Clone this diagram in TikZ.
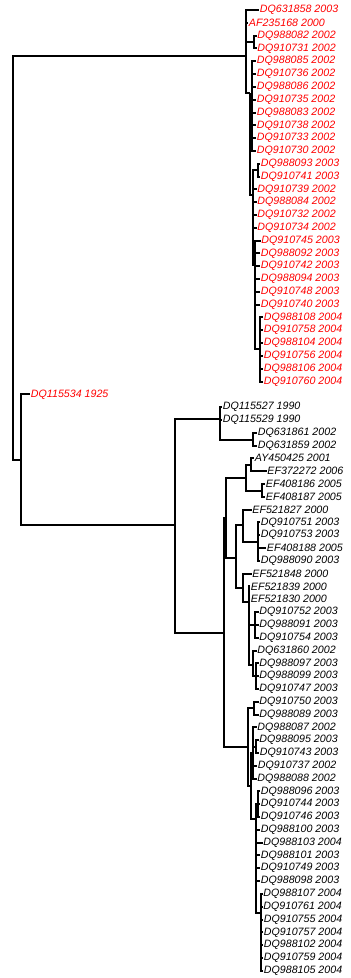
\documentclass[tikz,border=0pt]{standalone}
\usepackage{fontspec}
\setmainfont{Liberation Sans}
\tikzset{
  taxon/.style={anchor=west, inner sep=0.5pt, font=\itshape\fontsize{8}{9}\selectfont},
  old/.style={taxon, text=red},
  branch/.style={line width=1.5pt}
}
\begin{document}
\begin{tikzpicture}[x=0.75pt, y=-0.75pt]
      \useasboundingbox (0,0) rectangle (350,978);
      % internal nodes
      \path
        (13,258) coordinate (root)
        (246,56) coordinate (r0)
        (254,42) coordinate (r1)
        (250,93) coordinate (r2)
        (252,106) coordinate (r3)
        (253,195) coordinate (r4)
        (258,170) coordinate (r5)
        (255,265) coordinate (r6)
        (260,349) coordinate (r7)
        (21,460) coordinate (n1)
        (175,525) coordinate (n2)
        (220,419) coordinate (n3)
        (224,633) coordinate (n4)
        (253,440) coordinate (n5)
        (226,518) coordinate (n6)
        (248,747) coordinate (n7)
        (246,478) coordinate (n8)
        (236,558) coordinate (n9)
        (251,465) coordinate (n10)
        (262,491) coordinate (n11)
        (243,525) coordinate (n12)
        (243,588) coordinate (n13)
        (258,542) coordinate (n14)
        (249,602) coordinate (n15)
        (255,625) coordinate (n16)
        (253,665) coordinate (n17)
        (256,676) coordinate (n18)
        (254,708) coordinate (n19)
        (251,786) coordinate (n20)
        (253,753) coordinate (n21)
        (256,819) coordinate (n22)
        (256,746.5) coordinate (n23)
        (258,804) coordinate (n24)
        (261,913) coordinate (n25);
      % taxa
      \path
        (259,10.0) node[old] (DQ631858){DQ631858 2003}
        (248,22.8) node[old] (AF235168){AF235168 2000}
        (256.5,35.6) node[old] (DQ988082){DQ988082 2002}
        (256.5,48.4) node[old] (DQ910731){DQ910731 2002}
        (256,61.2) node[old] (DQ988085){DQ988085 2002}
        (256,74.0) node[old] (DQ910736){DQ910736 2002}
        (256,86.9) node[old] (DQ988086){DQ988086 2002}
        (256,99.7) node[old] (DQ910735){DQ910735 2002}
        (256,112.5) node[old] (DQ988083){DQ988083 2002}
        (256,125.3) node[old] (DQ910738){DQ910738 2002}
        (256,138.1) node[old] (DQ910733){DQ910733 2002}
        (256,150.9) node[old] (DQ910730){DQ910730 2002}
        (260,163.7) node[old] (DQ988093){DQ988093 2003}
        (260,176.5) node[old] (DQ910741){DQ910741 2003}
        (256.5,189.3) node[old] (DQ910739){DQ910739 2002}
        (256.5,202.1) node[old] (DQ988084){DQ988084 2002}
        (256.5,214.9) node[old] (DQ910732){DQ910732 2002}
        (256.5,227.8) node[old] (DQ910734){DQ910734 2002}
        (260.5,240.6) node[old] (DQ910745){DQ910745 2003}
        (260,253.4) node[old] (DQ988092){DQ988092 2003}
        (260,266.2) node[old] (DQ910742){DQ910742 2003}
        (260,279.0) node[old] (DQ988094){DQ988094 2003}
        (260,291.8) node[old] (DQ910748){DQ910748 2003}
        (260,304.6) node[old] (DQ910740){DQ910740 2003}
        (263,317.4) node[old] (DQ988108){DQ988108 2004}
        (263,330.2) node[old] (DQ910758){DQ910758 2004}
        (263,343.0) node[old] (DQ988104){DQ988104 2004}
        (263,355.8) node[old] (DQ910756){DQ910756 2004}
        (263,368.7) node[old] (DQ988106){DQ988106 2004}
        (263,381.5) node[old] (DQ910760){DQ910760 2004}
        (30,394.3) node[old] (DQ115534){DQ115534 1925}
        (222,407.1) node[taxon] (DQ115527){DQ115527 1990}
        (222,419.9) node[taxon] (DQ115529){DQ115529 1990}
        (257,432.7) node[taxon] (DQ631861){DQ631861 2002}
        (257,445.5) node[taxon] (DQ631859){DQ631859 2002}
        (254,458.3) node[taxon] (AY450425){AY450425 2001}
        (266.5,471.1) node[taxon] (EF372272){EF372272 2006}
        (265,483.9) node[taxon] (EF408186){EF408186 2005}
        (265,496.7) node[taxon] (EF408187){EF408187 2005}
        (251.5,509.6) node[taxon] (EF521827){EF521827 2000}
        (260,522.4) node[taxon] (DQ910751){DQ910751 2003}
        (260,535.2) node[taxon] (DQ910753){DQ910753 2003}
        (266,548.0) node[taxon] (EF408188){EF408188 2005}
        (260,560.8) node[taxon] (DQ988090){DQ988090 2003}
        (251.5,573.6) node[taxon] (EF521848){EF521848 2000}
        (250,586.4) node[taxon] (EF521839){EF521839 2000}
        (250,599.2) node[taxon] (EF521830){EF521830 2000}
        (258.5,612.0) node[taxon] (DQ910752){DQ910752 2003}
        (258.5,624.8) node[taxon] (DQ988091){DQ988091 2003}
        (258.5,637.7) node[taxon] (DQ910754){DQ910754 2003}
        (256.5,650.5) node[taxon] (DQ631860){DQ631860 2002}
        (258.5,663.3) node[taxon] (DQ988097){DQ988097 2003}
        (258.5,676.1) node[taxon] (DQ988099){DQ988099 2003}
        (258.5,688.9) node[taxon] (DQ910747){DQ910747 2003}
        (258.5,701.7) node[taxon] (DQ910750){DQ910750 2003}
        (258.5,714.5) node[taxon] (DQ988089){DQ988089 2003}
        (256.5,727.3) node[taxon] (DQ988087){DQ988087 2002}
        (258.5,740.1) node[taxon] (DQ988095){DQ988095 2003}
        (259,752.9) node[taxon] (DQ910743){DQ910743 2003}
        (257,765.8) node[taxon] (DQ910737){DQ910737 2002}
        (256.5,778.6) node[taxon] (DQ988088){DQ988088 2002}
        (260,791.4) node[taxon] (DQ988096){DQ988096 2003}
        (260,804.2) node[taxon] (DQ910744){DQ910744 2003}
        (260,817.0) node[taxon] (DQ910746){DQ910746 2003}
        (260,829.8) node[taxon] (DQ988100){DQ988100 2003}
        (262.5,842.6) node[taxon] (DQ988103){DQ988103 2004}
        (260,855.4) node[taxon] (DQ988101){DQ988101 2003}
        (260,868.2) node[taxon] (DQ910749){DQ910749 2003}
        (260,881.0) node[taxon] (DQ988098){DQ988098 2003}
        (262.5,893.9) node[taxon] (DQ988107){DQ988107 2004}
        (262.5,906.7) node[taxon] (DQ910761){DQ910761 2004}
        (263,919.5) node[taxon] (DQ910755){DQ910755 2004}
        (263,932.3) node[taxon] (DQ910757){DQ910757 2004}
        (263,945.1) node[taxon] (DQ988102){DQ988102 2004}
        (263,957.9) node[taxon] (DQ910759){DQ910759 2004}
        (263,970.7) node[taxon] (DQ988105){DQ988105 2004};
      \begin{scope}[branch]
        \draw (root) |- (r0);
        \draw (root) |- (n1);
        % red clade
        \draw (r0) |- (DQ631858);
        \draw (r0) |- (AF235168);
        \draw (r0) |- (r1);
        \draw (r0) |- (r2);
        \draw (r1) |- (DQ988082);
        \draw (r1) |- (DQ910731);
        \draw (r2) |- (r3);
        \draw (r2) |- (r4);
        \draw (r3) |- (DQ988085);
        \draw (r3) |- (DQ910736);
        \draw (r3) |- (DQ988086);
        \draw (r3) |- (DQ910735);
        \draw (r3) |- (DQ988083);
        \draw (r3) |- (DQ910738);
        \draw (r3) |- (DQ910733);
        \draw (r3) |- (DQ910730);
        \draw (r4) |- (r5);
        \draw (r4) |- (DQ910739);
        \draw (r4) |- (DQ988084);
        \draw (r4) |- (DQ910732);
        \draw (r4) |- (DQ910734);
        \draw (r4) |- (r6);
        \draw (r5) |- (DQ988093);
        \draw (r5) |- (DQ910741);
        \draw (r6) |- (DQ910745);
        \draw (r6) |- (DQ988092);
        \draw (r6) |- (DQ910742);
        \draw (r6) |- (DQ988094);
        \draw (r6) |- (DQ910748);
        \draw (r6) |- (DQ910740);
        \draw (r6) |- (r7);
        \draw (r7) |- (DQ988108);
        \draw (r7) |- (DQ910758);
        \draw (r7) |- (DQ988104);
        \draw (r7) |- (DQ910756);
        \draw (r7) |- (DQ988106);
        \draw (r7) |- (DQ910760);
        % black clade
        \draw (n1) |- (DQ115534);
        \draw (n1) |- (n2);
        \draw (n2) |- (n3);
        \draw (n2) |- (n4);
        \draw (n3) |- (DQ115527);
        \draw (n3) |- (DQ115529);
        \draw (n3) |- (n5);
        \draw (n5) |- (DQ631861);
        \draw (n5) |- (DQ631859);
        \draw (n4) |- (n6);
        \draw (n4) |- (n7);
        \draw (n6) |- (n8);
        \draw (n6) |- (n9);
        \draw (n8) |- (n10);
        \draw (n8) |- (n11);
        \draw (n10) |- (AY450425);
        \draw (n10) |- (EF372272);
        \draw (n11) |- (EF408186);
        \draw (n11) |- (EF408187);
        \draw (n9) |- (n12);
        \draw (n9) |- (n13);
        \draw (n12) |- (EF521827);
        \draw (n12) |- (n14);
        \draw (n14) |- (DQ910751);
        \draw (n14) |- (DQ910753);
        \draw (n14) |- (EF408188);
        \draw (n14) |- (DQ988090);
        \draw (n13) |- (EF521848);
        \draw (n13) |- (n15);
        \draw (n15) |- (EF521839);
        \draw (n15) |- (EF521830);
        \draw (n15) |- (n16);
        \draw (n15) |- (n17);
        \draw (n16) |- (DQ910752);
        \draw (n16) |- (DQ988091);
        \draw (n16) |- (DQ910754);
        \draw (n17) |- (DQ631860);
        \draw (n17) |- (n18);
        \draw (n18) |- (DQ988097);
        \draw (n18) |- (DQ988099);
        \draw (n18) |- (DQ910747);
        \draw (n7) |- (n19);
        \draw (n7) |- (n20);
        \draw (n19) |- (DQ910750);
        \draw (n19) |- (DQ988089);
        \draw (n20) |- (n21);
        \draw (n20) |- (n22);
        \draw (n21) |- (DQ988087);
        \draw (n21) |- (n23);
        \draw (n21) |- (DQ910737);
        \draw (n21) |- (DQ988088);
        \draw (n23) |- (DQ988095);
        \draw (n23) |- (DQ910743);
        \draw (n22) |- (n24);
        \draw (n22) |- (DQ988100);
        \draw (n22) |- (DQ988103);
        \draw (n22) |- (DQ988101);
        \draw (n22) |- (DQ910749);
        \draw (n22) |- (DQ988098);
        \draw (n22) |- (n25);
        \draw (n24) |- (DQ988096);
        \draw (n24) |- (DQ910744);
        \draw (n24) |- (DQ910746);
        \draw (n25) |- (DQ988107);
        \draw (n25) |- (DQ910761);
        \draw (n25) |- (DQ910755);
        \draw (n25) |- (DQ910757);
        \draw (n25) |- (DQ988102);
        \draw (n25) |- (DQ910759);
        \draw (n25) |- (DQ988105);
      \end{scope}
    \end{tikzpicture}
\end{document}
